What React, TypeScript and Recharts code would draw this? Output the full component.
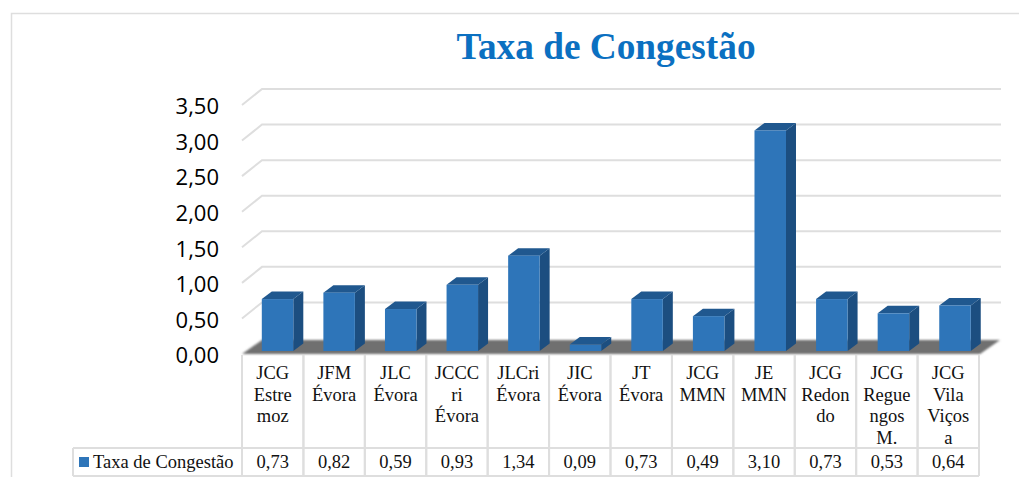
import React from "react";
import { BarChart, Bar, XAxis, YAxis, CartesianGrid } from "recharts";

const categories = [
  "JCG\nEstre\nmoz", "JFM\nÉvora", "JLC\nÉvora", "JCCC\nri\nÉvora", "JLCri\nÉvora", "JIC\nÉvora",
  "JT\nÉvora", "JCG\nMMN", "JE\nMMN", "JCG\nRedon\ndo", "JCG\nRegue\nngos\nM.", "JCG\nVila\nViços\na",
];
const values = [0.73, 0.82, 0.59, 0.93, 1.34, 0.09, 0.73, 0.49, 3.1, 0.73, 0.53, 0.64];
const yTicks = [0, 0.5, 1, 1.5, 2, 2.5, 3, 3.5];
const seriesName = "Taxa de Congestão";

const data = categories.map((c, i) => ({ cat: c, idx: i, v: values[i] }));
const fmt = (n: number) => n.toFixed(2).replace(".", ",");

const L = 242, R = 979, T = 105, B = 354;
const TABLE_MID = 448, TABLE_END = 476, LEG_L = 73;
const GRID = "#dedede";
const SERIF = "'Liberation Serif', serif";
const BAND = (R - L) / 12;

function Bar3D(props: any) {
  const { x, y, width, height, index } = props;
  const dx = 10, dy = 7.5;
  const fx = x + 4.8 + index * 0.17;
  const fy = y - 3;
  const r = fx + width;
  const b = fy + height;
  return (
    <g>
      <polygon points={`${r},${fy} ${r + dx},${fy - dy} ${r + dx},${b - dy} ${r},${b}`} fill="#1c4e80" />
      <polygon points={`${fx},${fy} ${fx + dx},${fy - dy} ${r + dx},${fy - dy} ${r},${fy}`} fill="#20588f" />
      <rect x={fx} y={fy} width={width} height={height} fill="#2e75b9" />
    </g>
  );
}

function GridLine(props: any) {
  const { x1, x2, y1 } = props;
  if (Math.abs(y1 - B) < 1) {
    return (
      <g>
        <defs>
          <filter id="floorBlur" x="-5%" y="-20%" width="110%" height="140%">
            <feGaussianBlur stdDeviation="0.8" />
          </filter>
        </defs>
        <polygon
          points={`${x1},${y1} ${x1 + 20},${y1 - 14} ${x2 + 21},${y1 - 14} ${x2 + 1},${y1}`}
          fill="#707070"
          filter="url(#floorBlur)"
        />
      </g>
    );
  }
  return (
    <polyline
      points={`${x1},${y1} ${x1 + 20},${y1 - 16} ${x2 + 22},${y1 - 16}`}
      fill="none"
      stroke={GRID}
      strokeWidth={2}
    />
  );
}

function TableTick(props: any) {
  const { x, index, payload } = props;
  const lines = String(payload.value).split("\n");
  const left = x - BAND / 2;
  const right = x + BAND / 2;
  return (
    <g>
      <line x1={left} x2={left} y1={B + 1} y2={TABLE_END} stroke={GRID} strokeWidth={2} />
      <line x1={right} x2={right} y1={B + 1} y2={TABLE_END} stroke={GRID} strokeWidth={2} />
      {lines.map((t, i) => (
        <text key={i} x={x} y={379 + i * 21.7} textAnchor="middle" fontFamily={SERIF} fontSize={18.5} fill="#111">
          {t}
        </text>
      ))}
      <text x={x} y={468} textAnchor="middle" fontFamily={SERIF} fontSize={18.5} fill="#111">
        {fmt(values[index])}
      </text>
    </g>
  );
}

export default function App() {
  return (
    <div style={{ position: "absolute", left: 0, top: 0, width: 1019, height: 477, overflow: "hidden", background: "#fff" }}>
      <BarChart
        width={1019}
        height={477}
        data={data}
        margin={{ left: 0, right: 1019 - R, top: T, bottom: 0 }}
      >
        <CartesianGrid horizontal={(p: any) => <GridLine key={p.index} {...p} />} vertical={false} />
        <XAxis
          dataKey="cat"
          axisLine={false}
          tickLine={false}
          interval={0}
          height={477 - B}
          tick={<TableTick />}
        />
        <YAxis
          width={L}
          domain={[0, 3.5]}
          ticks={yTicks}
          interval={0}
          axisLine={false}
          tickLine={false}
          tickMargin={17}
          tickFormatter={fmt}
          dy={1.5}
          tick={{ fontFamily: "'Open Sans', sans-serif", fontSize: 22, fill: "#000" }}
        />
        <Bar dataKey="v" barSize={31.5} isAnimationActive={false} shape={<Bar3D />} />
        <polyline points={`11.5,477 11.5,13.5 1019,13.5`} fill="none" stroke={GRID} strokeWidth={1.5} />
        <text x={606} y={59} textAnchor="middle" fontFamily={SERIF} fontWeight={700} fontSize={37.3} fill="#0b70c1">
          {seriesName}
        </text>
        <line x1={LEG_L} x2={R} y1={TABLE_MID} y2={TABLE_MID} stroke={GRID} strokeWidth={2} />
        <line x1={LEG_L} x2={R} y1={TABLE_END} y2={TABLE_END} stroke={GRID} strokeWidth={2} />
        <line x1={LEG_L} x2={LEG_L} y1={TABLE_MID} y2={TABLE_END} stroke={GRID} strokeWidth={2} />
        <rect x={79} y={457} width={10} height={10} fill="#2e75b9" />
        <text x={93} y={468} fontFamily={SERIF} fontSize={18.5} fill="#111">
          {seriesName}
        </text>
      </BarChart>
    </div>
  );
}
